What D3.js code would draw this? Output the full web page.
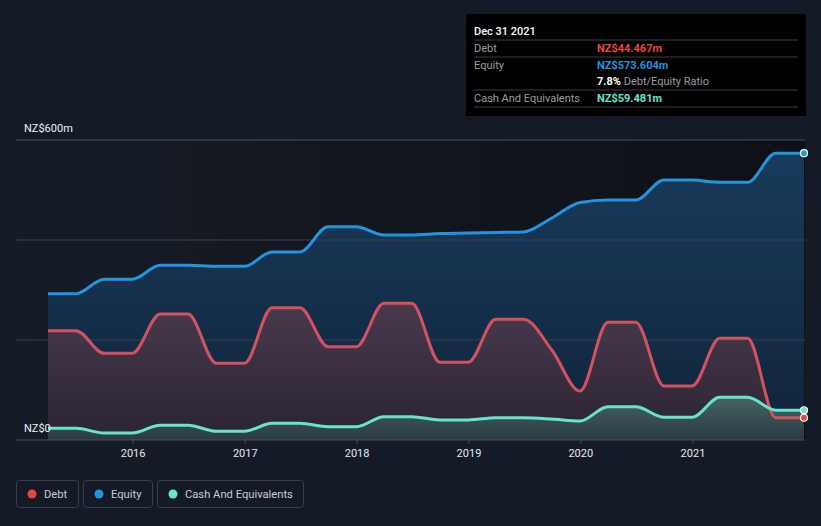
<!DOCTYPE html>
<html><head><meta charset="utf-8">
<script src="https://cdn.jsdelivr.net/npm/d3@7/dist/d3.min.js"></script>
<style>
html,body{margin:0;padding:0;background:#151b26;}
svg{display:block;font-family:Roboto,"Noto Sans",sans-serif;}
</style></head>
<body>
<svg id="chart" width="821" height="526"></svg>
<script>
// ---- data ----
const dates = ["2015-03-31","2015-06-30","2015-09-30","2015-12-31","2016-03-31","2016-06-30","2016-09-30","2016-12-31",
  "2017-03-31","2017-06-30","2017-09-30","2017-12-31","2018-03-31","2018-06-30","2018-09-30","2018-12-31",
  "2019-03-31","2019-06-30","2019-09-30","2019-12-31","2020-03-31","2020-06-30","2020-09-30","2020-12-31",
  "2021-03-31","2021-06-30","2021-09-30","2021-12-31"];
const debt = [218.6,218.6,173.4,173.4,252,252,153.4,153.4,264.6,264.6,186.6,186.6,273.4,273.4,155.4,155.4,
  241.4,241.4,180,98,235.4,235.4,108,108,203.4,203.4,44.467,44.467];
const equity = [292.6,292.6,321.4,321.4,349.4,349.4,347.4,347.4,376,376,426.6,426.6,410,410,413,414,
  415,416,444,475,480,480,520,520,515.4,515.4,573.604,573.604];
const cash = [23.4,23.4,14,14,29.4,29.4,17.4,17.4,33.4,33.4,26.6,26.6,46.6,46.6,40,40,
  44.6,44.6,42,38,66.6,66.6,45.4,45.4,85.4,85.4,59.481,59.481];
const yTicks = [0,200,400,600];
const yTickLabels = {0:"NZ$0",600:"NZ$600m"};
const xTickYears = [2016,2017,2018,2019,2020,2021];
const seriesNames = ["Debt","Equity","Cash And Equivalents"];
const tooltipDate = "Dec 31 2021";

// ---- setup ----
const svg = d3.select("#chart");
const parse = d3.timeParse("%Y-%m-%d");
const pts = dates.map((d,i)=>({date:parse(d),debt:debt[i],equity:equity[i],cash:cash[i]}));
const x = d3.scaleTime().domain([pts[0].date, pts[pts.length-1].date]).range([48,804]);
const y = d3.scaleLinear().domain([0,600]).range([440,140]);
const plotL = 16, plotR = 805;

const defs = svg.append("defs");
const bgGrad = defs.append("linearGradient").attr("id","bgGrad").attr("x1",0).attr("x2",1).attr("y1",0).attr("y2",0);
bgGrad.append("stop").attr("offset",0).attr("stop-color","#161c26");
bgGrad.append("stop").attr("offset",1).attr("stop-color","#0d1016");
function vgrad(id,y1,y2,c1,c2){
  const g = defs.append("linearGradient").attr("id",id).attr("gradientUnits","userSpaceOnUse")
    .attr("x1",0).attr("x2",0).attr("y1",y1).attr("y2",y2);
  g.append("stop").attr("offset",0).attr("stop-color",c1);
  g.append("stop").attr("offset",1).attr("stop-color",c2);
}
vgrad("eqGrad",150,440,"#183c5c","#11233a");
vgrad("debtGrad",300,440,"#493a4d","#2a2433");
vgrad("cashGrad",395,440,"#466663","#2b3a42");

svg.append("rect").attr("x",plotL).attr("y",y(600)).attr("width",plotR-plotL).attr("height",y(0)-y(600)).attr("fill","url(#bgGrad)");

// areas
const curve = d3.curveMonotoneX;
const area = key => d3.area().x(d=>x(d.date)).y0(y(0)).y1(d=>y(d[key])).curve(curve);
const line = key => d3.line().x(d=>x(d.date)).y(d=>y(d[key])).curve(curve);
svg.append("path").datum(pts).attr("d",area("equity")).attr("fill","url(#eqGrad)");
svg.append("path").datum(pts).attr("d",area("debt")).attr("fill","url(#debtGrad)");
svg.append("path").datum(pts).attr("d",area("cash")).attr("fill","url(#cashGrad)");

// grid
svg.append("g").selectAll("line").data(yTicks.filter(t=>t>0)).join("line")
  .attr("x1",plotL).attr("x2",plotR).attr("y1",d=>y(d)).attr("y2",d=>y(d))
  .attr("stroke",d=>d===600?"#4a4f58":"#38414e").attr("stroke-width",1);

// x axis
const xAxis = d3.axisBottom(x).tickValues(xTickYears.map(yr=>new Date(yr,0,1))).tickFormat(d3.timeFormat("%Y")).tickSize(4).tickSizeOuter(0);
const gx = svg.append("g").attr("transform",`translate(0,${y(0)})`).call(xAxis);
gx.select(".domain").remove();
gx.append("line").attr("x1",plotL).attr("x2",plotR).attr("y1",0).attr("y2",0).attr("stroke","#4a4f58");
gx.selectAll(".tick line").attr("stroke","#4a4f58");
gx.selectAll(".tick text").attr("fill","#e6e8eb").attr("font-size",11).attr("dy","0.9em").attr("font-family","Roboto,sans-serif");

// lines
svg.append("path").datum(pts).attr("d",line("equity")).attr("fill","none").attr("stroke","#2394df").attr("stroke-width",3);
svg.append("path").datum(pts).attr("d",line("debt")).attr("fill","none").attr("stroke","#d2535f").attr("stroke-width",3);
svg.append("path").datum(pts).attr("d",line("cash")).attr("fill","none").attr("stroke","#67e3cf").attr("stroke-width",3);

// y labels
svg.append("g").selectAll("text").data(Object.keys(yTickLabels).map(Number)).join("text")
  .attr("x",24).attr("y",d=>y(d)-8).attr("fill","#eef0f2").attr("font-size",11).text(d=>yTickLabels[d]);

// end dots
const last = pts[pts.length-1];
[["equity","#2394df"],["cash","#67e3cf"],["debt","#e64545"]].forEach(([k,c])=>{
  svg.append("circle").attr("cx",x(last.date)).attr("cy",y(last[k])).attr("r",3.5)
    .attr("fill",c).attr("stroke","#ffffff").attr("stroke-width",1.2);
});

// tooltip
const tt = svg.append("g").attr("transform","translate(466,14)");
tt.append("rect").attr("width",340).attr("height",102).attr("fill","#000000");
const sepY = [26,43,76,93];
tt.selectAll("line.sep").data(sepY).join("line").attr("x1",8).attr("x2",332).attr("y1",d=>d).attr("y2",d=>d).attr("stroke","#3c3f44");
tt.append("text").attr("x",8).attr("y",21).attr("fill","#ffffff").attr("font-size",11).attr("font-weight",500).text(tooltipDate);
const rows = [
  {label:seriesNames[0], val:"NZ$"+debt[debt.length-1].toFixed(3)+"m", col:"#ee4545", y:38},
  {label:seriesNames[1], val:"NZ$"+equity[equity.length-1].toFixed(3)+"m", col:"#2394df", y:55},
  {label:seriesNames[2], val:"NZ$"+cash[cash.length-1].toFixed(3)+"m", col:"#6de3d0", y:88}
];
rows.forEach(r=>{
  tt.append("text").attr("x",8).attr("y",r.y).attr("fill","#9a9da3").attr("font-size",11).text(r.label);
  tt.append("text").attr("x",131).attr("y",r.y).attr("fill",r.col).attr("font-size",11).attr("font-weight",700).text(r.val);
});
const ratio = (debt[debt.length-1]/equity[equity.length-1]*100).toFixed(1)+"%";
const rt = tt.append("text").attr("x",131).attr("y",71).attr("font-size",11);
rt.append("tspan").attr("fill","#ffffff").attr("font-weight",700).text(ratio);
rt.append("tspan").attr("fill","#9a9da3").text(" Debt/Equity Ratio");

// legend
const legColors = ["#e64545","#2394df","#6de3d0"];
const legX = [16,83,157], legW = [62,69,146];
const lg = svg.append("g");
seriesNames.forEach((n,i)=>{
  const g = lg.append("g").attr("transform",`translate(${legX[i]},480)`);
  g.append("rect").attr("x",0.5).attr("y",0.5).attr("width",legW[i]).attr("height",27).attr("rx",3)
    .attr("fill","none").attr("stroke","#3a404b");
  g.append("circle").attr("cx",16).attr("cy",14).attr("r",4.5).attr("fill",legColors[i]);
  g.append("text").attr("x",28).attr("y",18).attr("fill","#c9ccd1").attr("font-size",11.2).text(n);
});
</script>
</body></html>
